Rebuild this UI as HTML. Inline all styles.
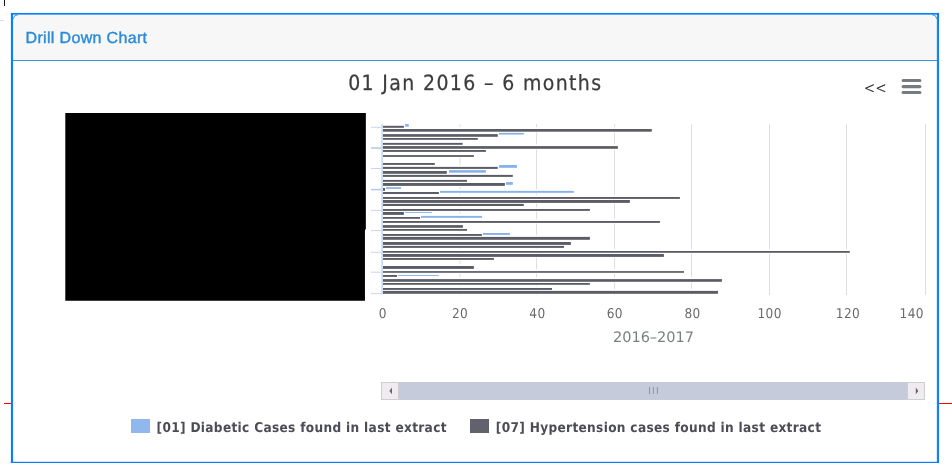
<!DOCTYPE html>
<html><head><meta charset="utf-8"><title>Drill Down Chart</title>
<style>
html,body{margin:0;padding:0;background:#fff;}
body{width:952px;height:473px;position:relative;overflow:hidden;font-family:"DejaVu Sans","Liberation Sans",sans-serif;text-rendering:geometricPrecision;}
.abs{position:absolute;}
#head{left:13px;top:15px;width:924px;height:45px;background:#f7f7f7;border-bottom:1px solid #3f93dc;border-top-left-radius:3px;border-top-right-radius:3px;}
#headtxt{left:25.5px;top:28.5px;font-family:"Liberation Sans",sans-serif;font-size:16px;line-height:20px;color:#2b8bd8;white-space:nowrap;-webkit-text-stroke:0.4px #2b8bd8;letter-spacing:0.34px;}
#title{left:348.2px;top:69.1px;-webkit-text-stroke:0.25px #3c3c3c;font-family:"DejaVu Sans Condensed","DejaVu Sans",sans-serif;font-size:21px;line-height:28px;color:#3c3c3c;white-space:nowrap;letter-spacing:1.38px;}
.xl{position:absolute;top:306px;width:60px;text-align:center;font-family:"DejaVu Sans Condensed","DejaVu Sans",sans-serif;font-size:13.5px;line-height:16px;color:#6a6a6a;letter-spacing:0.4px;text-indent:0.4px;}
#xt{left:553.5px;width:200px;top:327.8px;text-align:center;font-size:14.5px;line-height:20px;color:#7a8080;letter-spacing:0px;}
#sb{left:381px;top:382px;width:544px;height:18px;background:#c6cbdc;}
.btn{position:absolute;top:0;width:16px;height:16px;border:1px solid #cfcfcf;background:#f0eaf1;}
#leg1,#leg2{top:418.6px;font-family:"DejaVu Sans Condensed","DejaVu Sans",sans-serif;font-size:13.5px;line-height:18px;font-weight:bold;color:#4c4c56;white-space:nowrap;letter-spacing:0.335px;}
.sw{position:absolute;top:419.3px;width:18.8px;height:13.5px;}
#lt{left:863.6px;top:82px;font-size:13.5px;line-height:14px;color:#111;letter-spacing:0.6px;font-weight:200;-webkit-text-stroke:0.25px #111;transform:scale(0.97,1.12);transform-origin:0 12.3px;}
</style></head><body>
<div class="abs" style="left:4px;top:0;width:1px;height:6px;background:#111"></div>
<div class="abs" style="left:0;top:20px;width:4px;height:1px;background:#ddd"></div>
<div class="abs" style="left:4px;top:403px;width:7px;height:1px;background:#f00"></div>
<div class="abs" style="left:939px;top:403px;width:13px;height:1px;background:#f00"></div>
<div id="head" class="abs"></div>
<svg class="abs" style="left:0;top:0" width="952" height="473" viewBox="0 0 952 473">
<path d="M13 14.6H17.6A4.6 4.6 0 0 0 13 19.2ZM937 14.6H932.4A4.6 4.6 0 0 1 937 19.2Z" fill="#fff"/>
<path d="M13.5 19V18.6A4 4 0 0 1 17.5 14.9H18M936.6 19V18.6A4 4 0 0 0 932.6 14.9H932" fill="none" stroke="#3a8fd9" stroke-width="0.9"/>
<g fill="#0a7ffa"><rect x="10.9" y="12.95" width="2.15" height="450.05"/><rect x="936.9" y="12.95" width="2.15" height="450.05"/><rect x="10.9" y="12.95" width="928.15" height="1.7"/><rect x="10.9" y="461.8" width="928.15" height="1.2"/></g>
<rect x="936.9" y="15" width="0.7" height="446" fill="#3a8fd9" opacity="0.6"/>
</svg>
<div id="headtxt" class="abs">Drill Down Chart</div>
<div id="title" class="abs">01 Jan 2016 – 6 months</div>
<div id="lt" class="abs">&lt;&lt;</div>
<svg class="abs" style="left:899px;top:76px" width="26" height="22" viewBox="0 0 26 22"><g stroke="#737d7d" stroke-width="3.1" stroke-linecap="round"><path d="M4.1 4.5H20.9M4.1 10.6H20.9M4.1 16.5H20.9"/></g></svg>

<svg class="abs" style="left:0;top:0" width="952" height="473" viewBox="0 0 952 473">
<rect x="459.5" y="124" width="1" height="171" fill="#dedede"/>
<rect x="536.0" y="124" width="1" height="171" fill="#dedede"/>
<rect x="614.0" y="124" width="1" height="171" fill="#dedede"/>
<rect x="691.0" y="124" width="1" height="171" fill="#dedede"/>
<rect x="769.0" y="124" width="1" height="171" fill="#dedede"/>
<rect x="846.0" y="124" width="1" height="171" fill="#dedede"/>
<rect x="925.0" y="124" width="1" height="171" fill="#dedede"/>
<rect x="383" y="124.0" width="21.4" height="4.5" fill="#fff"/>
<rect x="405.2" y="122.2" width="4.1" height="5.2" fill="#fff"/>
<rect x="383" y="127.2" width="269.3" height="5.2" fill="#fff"/>
<rect x="383" y="132.3" width="115.3" height="5.2" fill="#fff"/>
<rect x="499.0" y="131.1" width="25.3" height="4.2" fill="#fff"/>
<rect x="383" y="136.2" width="95.3" height="4.3" fill="#fff"/>
<rect x="383" y="141.1" width="80.2" height="4.4" fill="#fff"/>
<rect x="383" y="144.3" width="235.4" height="5.2" fill="#fff"/>
<rect x="383" y="148.2" width="103.4" height="4.4" fill="#fff"/>
<rect x="383" y="153.3" width="91.4" height="4.3" fill="#fff"/>
<rect x="383" y="161.2" width="52.3" height="4.4" fill="#fff"/>
<rect x="383" y="165.1" width="115.3" height="4.5" fill="#fff"/>
<rect x="499.1" y="163.2" width="18.3" height="5.3" fill="#fff"/>
<rect x="383" y="169.2" width="64.3" height="5.3" fill="#fff"/>
<rect x="449.0" y="168.3" width="37.4" height="5.1" fill="#fff"/>
<rect x="383" y="173.1" width="130.3" height="4.5" fill="#fff"/>
<rect x="383" y="178.1" width="84.5" height="4.4" fill="#fff"/>
<rect x="383" y="181.2" width="122.4" height="5.4" fill="#fff"/>
<rect x="506.0" y="180.3" width="7.3" height="5.2" fill="#fff"/>
<rect x="383" y="186.2" width="2.5" height="5.3" fill="#fff"/>
<rect x="386.0" y="185.4" width="15.5" height="4.2" fill="#fff"/>
<rect x="383" y="190.2" width="56.4" height="4.5" fill="#fff"/>
<rect x="440.0" y="189.1" width="134.3" height="4.4" fill="#fff"/>
<rect x="383" y="195.2" width="297.4" height="4.4" fill="#fff"/>
<rect x="383" y="198.2" width="247.4" height="5.4" fill="#fff"/>
<rect x="383" y="202.1" width="141.3" height="4.6" fill="#fff"/>
<rect x="383" y="207.2" width="207.4" height="4.4" fill="#fff"/>
<rect x="383" y="210.2" width="21.4" height="5.4" fill="#fff"/>
<rect x="405.0" y="210.2" width="27.5" height="3.4" fill="#fff"/>
<rect x="383" y="215.2" width="37.5" height="4.3" fill="#fff"/>
<rect x="421.0" y="214.1" width="61.4" height="4.4" fill="#fff"/>
<rect x="383" y="219.2" width="277.4" height="4.4" fill="#fff"/>
<rect x="383" y="223.3" width="80.4" height="5.2" fill="#fff"/>
<rect x="383" y="227.2" width="84.5" height="4.3" fill="#fff"/>
<rect x="383" y="232.2" width="99.4" height="4.4" fill="#fff"/>
<rect x="482.9" y="231.2" width="27.6" height="4.4" fill="#fff"/>
<rect x="383" y="235.1" width="207.4" height="5.4" fill="#fff"/>
<rect x="383" y="240.2" width="188.4" height="5.4" fill="#fff"/>
<rect x="383" y="244.1" width="181.5" height="4.5" fill="#fff"/>
<rect x="383" y="249.2" width="467.3" height="4.3" fill="#fff"/>
<rect x="383" y="252.2" width="281.4" height="5.4" fill="#fff"/>
<rect x="383" y="256.2" width="111.4" height="4.4" fill="#fff"/>
<rect x="383" y="264.2" width="91.4" height="5.4" fill="#fff"/>
<rect x="383" y="269.3" width="301.5" height="4.2" fill="#fff"/>
<rect x="383" y="273.2" width="14.5" height="4.4" fill="#fff"/>
<rect x="398.0" y="273.2" width="41.4" height="3.4" fill="#fff"/>
<rect x="383" y="277.3" width="339.4" height="5.2" fill="#fff"/>
<rect x="383" y="281.2" width="207.4" height="4.3" fill="#fff"/>
<rect x="383" y="286.2" width="169.5" height="4.4" fill="#fff"/>
<rect x="383" y="289.1" width="335.5" height="5.4" fill="#fff"/>
<rect x="381.3" y="124" width="1.6" height="170.5" fill="#c8d6ef"/>
<rect x="371" y="126.8" width="10.5" height="1.0" fill="#c8d6ef"/>
<rect x="371" y="147.2" width="10.5" height="1.6" fill="#bccbea"/>
<rect x="371" y="168.0" width="10.5" height="1.0" fill="#c8d6ef"/>
<rect x="371" y="188.8" width="10.5" height="1.6" fill="#bccbea"/>
<rect x="371" y="209.9" width="10.5" height="1.0" fill="#c8d6ef"/>
<rect x="371" y="230.1" width="10.5" height="1.0" fill="#c8d6ef"/>
<rect x="371" y="251.8" width="10.5" height="1.0" fill="#c8d6ef"/>
<rect x="371" y="271.7" width="10.5" height="1.0" fill="#c8d6ef"/>
<rect x="371" y="293.1" width="10.5" height="1.0" fill="#c8d6ef"/>
<rect x="383" y="125.8" width="20.9" height="2.0" fill="#5c5c66"/>
<rect x="405.2" y="124.0" width="3.6" height="2.7" fill="#86b2ea"/>
<rect x="383" y="129.0" width="268.8" height="2.7" fill="#5c5c66"/>
<rect x="383" y="134.1" width="114.8" height="2.7" fill="#5c5c66"/>
<rect x="499.0" y="132.9" width="24.8" height="1.7" fill="#86b2ea"/>
<rect x="383" y="138.0" width="94.8" height="1.8" fill="#5c5c66"/>
<rect x="383" y="142.9" width="79.7" height="1.9" fill="#5c5c66"/>
<rect x="383" y="146.1" width="234.9" height="2.7" fill="#5c5c66"/>
<rect x="383" y="150.0" width="102.9" height="1.9" fill="#5c5c66"/>
<rect x="383" y="155.1" width="90.9" height="1.8" fill="#5c5c66"/>
<rect x="383" y="163.0" width="51.8" height="1.9" fill="#5c5c66"/>
<rect x="383" y="166.9" width="114.8" height="2.0" fill="#5c5c66"/>
<rect x="499.1" y="165.0" width="17.8" height="2.8" fill="#86b2ea"/>
<rect x="383" y="171.0" width="63.8" height="2.8" fill="#5c5c66"/>
<rect x="449.0" y="170.1" width="36.9" height="2.6" fill="#86b2ea"/>
<rect x="383" y="174.9" width="129.8" height="2.0" fill="#5c5c66"/>
<rect x="383" y="179.9" width="84.0" height="1.9" fill="#5c5c66"/>
<rect x="383" y="183.0" width="121.9" height="2.9" fill="#5c5c66"/>
<rect x="506.0" y="182.1" width="6.8" height="2.7" fill="#86b2ea"/>
<rect x="383" y="188.0" width="2.0" height="2.8" fill="#5c5c66"/>
<rect x="386.0" y="187.2" width="15.0" height="1.7" fill="#86b2ea"/>
<rect x="383" y="192.0" width="55.9" height="2.0" fill="#5c5c66"/>
<rect x="440.0" y="190.9" width="133.8" height="1.9" fill="#86b2ea"/>
<rect x="383" y="197.0" width="296.9" height="1.9" fill="#5c5c66"/>
<rect x="383" y="200.0" width="246.9" height="2.9" fill="#5c5c66"/>
<rect x="383" y="203.9" width="140.8" height="2.1" fill="#5c5c66"/>
<rect x="383" y="209.0" width="206.9" height="1.9" fill="#5c5c66"/>
<rect x="383" y="212.0" width="20.9" height="2.9" fill="#5c5c66"/>
<rect x="405.0" y="212.0" width="27.0" height="0.9" fill="#86b2ea"/>
<rect x="383" y="217.0" width="37.0" height="1.8" fill="#5c5c66"/>
<rect x="421.0" y="215.9" width="60.9" height="1.9" fill="#86b2ea"/>
<rect x="383" y="221.0" width="276.9" height="1.9" fill="#5c5c66"/>
<rect x="383" y="225.1" width="79.9" height="2.7" fill="#5c5c66"/>
<rect x="383" y="229.0" width="84.0" height="1.8" fill="#5c5c66"/>
<rect x="383" y="234.0" width="98.9" height="1.9" fill="#5c5c66"/>
<rect x="482.9" y="233.0" width="27.1" height="1.9" fill="#86b2ea"/>
<rect x="383" y="236.9" width="206.9" height="2.9" fill="#5c5c66"/>
<rect x="383" y="242.0" width="187.9" height="2.9" fill="#5c5c66"/>
<rect x="383" y="245.9" width="181.0" height="2.0" fill="#5c5c66"/>
<rect x="383" y="251.0" width="466.8" height="1.8" fill="#5c5c66"/>
<rect x="383" y="254.0" width="280.9" height="2.9" fill="#5c5c66"/>
<rect x="383" y="258.0" width="110.9" height="1.9" fill="#5c5c66"/>
<rect x="383" y="266.0" width="90.9" height="2.9" fill="#5c5c66"/>
<rect x="383" y="271.1" width="301.0" height="1.7" fill="#5c5c66"/>
<rect x="383" y="275.0" width="14.0" height="1.9" fill="#5c5c66"/>
<rect x="398.0" y="275.0" width="40.9" height="0.9" fill="#86b2ea"/>
<rect x="383" y="279.1" width="338.9" height="2.7" fill="#5c5c66"/>
<rect x="383" y="283.0" width="206.9" height="1.8" fill="#5c5c66"/>
<rect x="383" y="288.0" width="169.0" height="1.9" fill="#5c5c66"/>
<rect x="383" y="290.9" width="335.0" height="2.9" fill="#5c5c66"/>
<path d="M65.3 113.1H365.85V229.5H364.95V300.8H65.3Z" fill="#000"/>
</svg>
<div class="xl" style="left:352.6px">0</div><div class="xl" style="left:429.9px">20</div><div class="xl" style="left:507.2px">40</div><div class="xl" style="left:584.6px">60</div><div class="xl" style="left:662.4px">80</div><div class="xl" style="left:739.4px">100</div><div class="xl" style="left:817.8px">120</div>
<div class="xl" style="left:864px;text-align:right">140</div>
<div id="xt" class="abs">2016–2017</div>
<div id="sb" class="abs">
 <div class="btn" style="left:0"><svg width="16" height="16" viewBox="0 0 16 16" style="display:block"><path d="M10 4.6V11.2L7.4 7.9Z" fill="#666"/></svg></div>
 <div class="btn" style="right:0"><svg width="16" height="16" viewBox="0 0 16 16" style="display:block"><path d="M7.8 4.6V11.2L10.4 7.9Z" fill="#666"/></svg></div>
 <svg class="abs" style="left:262px;top:0" width="20" height="18" viewBox="0 0 20 18"><path d="M6.5 5V12M10.4 5V12M14.4 5V12" stroke="#7c8888" stroke-width="0.8"/></svg>
</div>
<div class="sw" style="left:131.2px;background:#90b8ec"></div>
<div id="leg1" class="abs" style="left:156.5px">[01] Diabetic Cases found in last extract</div>
<div class="sw" style="left:470.1px;background:#62626c"></div>
<div id="leg2" class="abs" style="left:495.8px">[07] Hypertension cases found in last extract</div>
</body></html>
